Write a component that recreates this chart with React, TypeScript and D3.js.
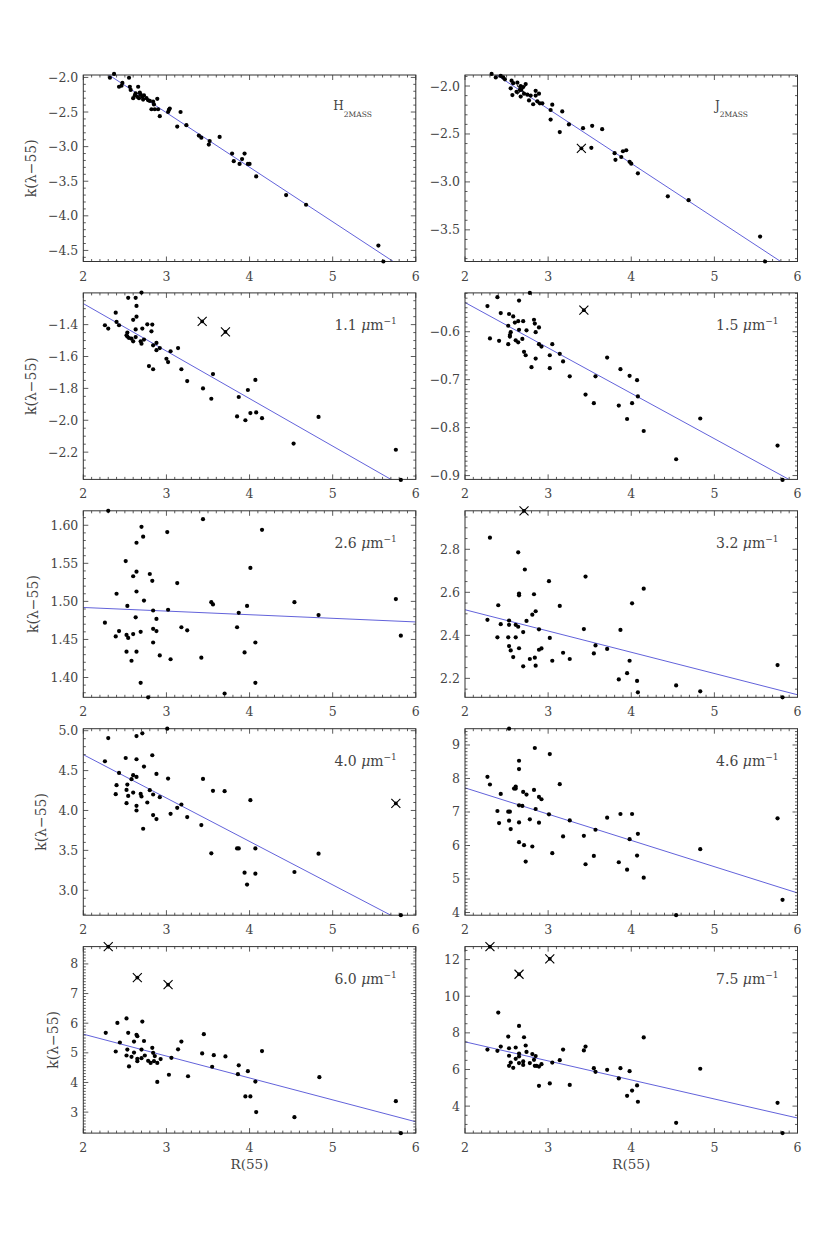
import React, { useEffect, useRef } from 'react';
import * as d3 from 'd3';

type Pt = [number, number];

// R(55), k(lambda-55) pairs
const hPts: Pt[] = [
  [2.32, -2.005], [2.37, -1.95], [2.43, -2.135], [2.46, -2.12], [2.47, -2.08], [2.55, -2.005],
  [2.56, -2.135], [2.57, -2.18], [2.60, -2.30], [2.66, -2.135], [2.63, -2.23], [2.65, -2.28],
  [2.68, -2.22], [2.71, -2.28], [2.73, -2.26], [2.72, -2.32], [2.76, -2.30], [2.78, -2.33],
  [2.62, -2.26], [2.69, -2.25], [2.67, -2.30], [2.80, -2.34],
  [2.82, -2.46], [2.84, -2.35], [2.85, -2.39], [2.86, -2.46], [2.89, -2.31], [2.90, -2.46],
  [2.92, -2.56], [3.02, -2.50], [3.03, -2.47], [3.04, -2.45], [3.13, -2.71], [3.17, -2.50],
  [3.24, -2.69], [3.39, -2.84], [3.42, -2.87], [3.51, -2.97], [3.52, -2.92], [3.64, -2.86],
  [3.79, -3.10], [3.81, -3.21], [3.88, -3.25], [3.91, -3.18], [3.94, -3.10], [3.98, -3.25],
  [4.00, -3.25], [4.08, -3.43], [4.44, -3.70], [4.68, -3.84], [5.55, -4.43], [5.61, -4.66],
];
const jPts: Pt[] = [
  [2.32, -1.874], [2.37, -1.91], [2.43, -1.895], [2.46, -1.91], [2.48, -1.93], [2.56, -1.944],
  [2.55, -2.024], [2.57, -2.094], [2.58, -1.97], [2.62, -2.06], [2.63, -1.965], [2.66, -2.04],
  [2.67, -2.0], [2.67, -2.11], [2.70, -2.01], [2.71, -2.08], [2.73, -1.98], [2.75, -2.09],
  [2.77, -2.15], [2.79, -2.10], [2.82, -2.19], [2.85, -2.05], [2.85, -2.10], [2.87, -2.16],
  [2.89, -2.08], [2.90, -2.18], [2.93, -2.18], [3.03, -2.25], [3.03, -2.35], [3.05, -2.195],
  [3.14, -2.48], [3.17, -2.265], [3.25, -2.40], [3.42, -2.44], [3.52, -2.645], [3.53, -2.415],
  [3.65, -2.45], [3.80, -2.70], [3.81, -2.77], [3.88, -2.74], [3.90, -2.68], [3.94, -2.67],
  [3.98, -2.79], [4.00, -2.81], [4.08, -2.91], [4.44, -3.15], [4.69, -3.19], [5.55, -3.57],
  [5.61, -3.83],
];
const k11Pts: Pt[] = [
  [2.26, -1.404], [2.30, -1.425], [2.39, -1.325], [2.40, -1.383], [2.43, -1.404], [2.54, -1.232],
  [2.60, -1.37], [2.63, -1.232], [2.64, -1.283], [2.64, -1.35], [2.63, -1.43], [2.63, -1.478],
  [2.53, -1.45], [2.52, -1.467], [2.53, -1.475], [2.55, -1.484], [2.58, -1.488], [2.60, -1.505],
  [2.70, -1.199], [2.71, -1.425], [2.69, -1.505], [2.70, -1.52], [2.73, -1.494], [2.77, -1.398],
  [2.79, -1.66], [2.82, -1.442], [2.83, -1.40], [2.84, -1.53], [2.84, -1.68], [2.88, -1.515],
  [2.88, -1.56], [2.92, -1.547], [3.00, -1.614], [3.02, -1.635], [3.05, -1.567], [3.14, -1.547],
  [3.18, -1.68], [3.25, -1.754], [3.44, -1.80], [3.54, -1.865], [3.56, -1.71], [3.85, -1.976],
  [3.87, -1.854], [3.95, -2.00], [3.98, -1.81], [4.01, -1.955], [4.07, -1.747], [4.08, -1.951],
  [4.15, -1.987], [4.53, -2.146], [4.83, -1.979], [5.76, -2.185], [5.82, -2.374],
];
const k15Pts: Pt[] = [
  [2.27, -0.5465], [2.30, -0.614], [2.39, -0.528], [2.41, -0.619], [2.43, -0.561], [2.53, -0.563],
  [2.52, -0.5875], [2.52, -0.626], [2.54, -0.607], [2.55, -0.601], [2.54, -0.61], [2.58, -0.568],
  [2.60, -0.581], [2.61, -0.618], [2.64, -0.578], [2.65, -0.596], [2.65, -0.535], [2.64, -0.622],
  [2.70, -0.578], [2.69, -0.615], [2.71, -0.642], [2.73, -0.649], [2.74, -0.597], [2.78, -0.519],
  [2.80, -0.674], [2.83, -0.575], [2.84, -0.583], [2.85, -0.601], [2.85, -0.656], [2.89, -0.591],
  [2.89, -0.626], [2.92, -0.631], [3.02, -0.649], [3.02, -0.676], [3.05, -0.626], [3.14, -0.646],
  [3.18, -0.662], [3.26, -0.693], [3.45, -0.731], [3.55, -0.749], [3.57, -0.693], [3.71, -0.654],
  [3.85, -0.754], [3.87, -0.678], [3.95, -0.782], [3.98, -0.692], [4.01, -0.749], [4.07, -0.701],
  [4.08, -0.735], [4.15, -0.807], [4.54, -0.866], [4.83, -0.781], [5.76, -0.8375], [5.82, -0.909],
];
const k26Pts: Pt[] = [
  [2.30, 1.619], [2.26, 1.472], [2.39, 1.454], [2.40, 1.510], [2.43, 1.461], [2.51, 1.553],
  [2.52, 1.456], [2.52, 1.434], [2.53, 1.494], [2.54, 1.452], [2.58, 1.422], [2.60, 1.533],
  [2.60, 1.457], [2.64, 1.577], [2.64, 1.539], [2.64, 1.513], [2.63, 1.479], [2.64, 1.434],
  [2.69, 1.393], [2.70, 1.598], [2.69, 1.460], [2.72, 1.585], [2.73, 1.501], [2.78, 1.374],
  [2.80, 1.536], [2.83, 1.527], [2.84, 1.464], [2.84, 1.488], [2.84, 1.446], [2.88, 1.477],
  [2.88, 1.461], [2.92, 1.429], [3.01, 1.591], [3.02, 1.489], [3.05, 1.424], [3.13, 1.524],
  [3.18, 1.466], [3.25, 1.462], [3.44, 1.608], [3.42, 1.426], [3.54, 1.499], [3.56, 1.496],
  [3.70, 1.379], [3.85, 1.466], [3.87, 1.485], [3.94, 1.433], [3.97, 1.494], [4.01, 1.544],
  [4.07, 1.446], [4.07, 1.393], [4.15, 1.594], [4.54, 1.499], [4.83, 1.482], [5.76, 1.503],
  [5.82, 1.455],
];
const k32Pts: Pt[] = [
  [2.30, 2.854], [2.27, 2.472], [2.39, 2.391], [2.40, 2.540], [2.43, 2.452], [2.53, 2.469],
  [2.52, 2.391], [2.53, 2.449], [2.53, 2.35], [2.55, 2.330], [2.58, 2.299], [2.61, 2.449],
  [2.61, 2.391], [2.64, 2.440], [2.65, 2.340], [2.64, 2.786], [2.65, 2.594], [2.65, 2.586],
  [2.70, 2.256], [2.70, 2.415], [2.72, 2.706], [2.74, 2.467], [2.78, 2.290], [2.81, 2.496],
  [2.83, 2.591], [2.84, 2.296], [2.85, 2.259], [2.85, 2.512], [2.89, 2.428], [2.89, 2.333],
  [2.92, 2.339], [3.01, 2.652], [3.02, 2.388], [3.05, 2.282], [3.14, 2.537], [3.18, 2.319],
  [3.26, 2.290], [3.43, 2.429], [3.45, 2.673], [3.55, 2.316], [3.57, 2.353], [3.71, 2.337],
  [3.85, 2.195], [3.87, 2.425], [3.95, 2.224], [3.98, 2.282], [4.01, 2.549], [4.07, 2.188],
  [4.08, 2.135], [4.15, 2.617], [4.54, 2.167], [4.83, 2.140], [5.76, 2.262], [5.82, 2.112],
];
const k40Pts: Pt[] = [
  [2.30, 4.908], [2.64, 4.933], [2.71, 4.967], [3.01, 5.025], [2.26, 4.617], [2.51, 4.658],
  [2.64, 4.642], [2.83, 4.692], [2.73, 4.55], [2.43, 4.471], [2.60, 4.442], [2.64, 4.421],
  [2.58, 4.392], [2.88, 4.458], [3.02, 4.40], [3.44, 4.396], [2.40, 4.317], [2.53, 4.325],
  [2.52, 4.258], [2.39, 4.204], [2.54, 4.183], [2.60, 4.225], [2.69, 4.208], [2.70, 4.175],
  [2.80, 4.254], [2.84, 4.20], [2.92, 4.167], [2.77, 4.10], [2.52, 4.092], [2.64, 4.058],
  [2.64, 4.00], [2.84, 3.942], [2.88, 3.892], [2.72, 3.771], [3.05, 3.958], [3.13, 4.033],
  [3.18, 4.075], [3.25, 3.917], [3.56, 4.246], [3.70, 4.242], [3.42, 3.817], [3.54, 3.463],
  [3.85, 3.525], [3.87, 3.525], [4.01, 4.129], [4.07, 3.525], [3.94, 3.221], [4.07, 3.208],
  [3.97, 3.071], [4.54, 3.229], [4.83, 3.458], [5.82, 2.6875],
];
const k46Pts: Pt[] = [
  [2.53, 9.486], [2.84, 8.91], [3.02, 8.73], [2.65, 8.53], [2.65, 8.28], [2.27, 8.05],
  [2.30, 7.82], [2.43, 7.54], [2.61, 7.76], [2.59, 7.70], [2.61, 7.70], [2.83, 7.66],
  [3.14, 7.83], [2.70, 7.60], [2.74, 7.52], [2.89, 7.45], [2.92, 7.38], [2.65, 7.20],
  [2.69, 7.18], [2.85, 7.09], [2.39, 7.03], [2.52, 7.01], [2.54, 7.01], [3.01, 6.93],
  [2.41, 6.67], [2.53, 6.74], [2.55, 6.49], [2.65, 6.69], [2.78, 6.78], [2.89, 6.68],
  [3.26, 6.75], [3.71, 6.83], [3.87, 6.94], [4.01, 6.94], [3.57, 6.47], [3.18, 6.27],
  [3.43, 6.29], [3.98, 6.19], [4.08, 6.35], [2.65, 6.10], [2.71, 6.01], [2.81, 5.97],
  [3.05, 5.77], [2.73, 5.52], [3.45, 5.44], [3.55, 5.69], [3.85, 5.50], [3.95, 5.28],
  [4.07, 5.70], [4.15, 5.04], [4.54, 3.92], [4.83, 5.89], [5.76, 6.81], [5.82, 4.38],
];
const k60Pts: Pt[] = [
  [2.27, 5.674], [2.41, 6.01], [2.52, 6.16], [2.54, 5.674], [2.44, 5.348], [2.39, 5.045],
  [2.53, 5.11], [2.52, 4.91], [2.55, 4.54], [2.58, 4.865], [2.61, 5.01], [2.61, 5.38],
  [2.65, 5.56], [2.64, 5.61], [2.65, 4.80], [2.65, 4.72], [2.70, 4.82], [2.70, 5.11],
  [2.71, 6.055], [2.73, 5.40], [2.74, 4.91], [2.78, 4.73], [2.81, 4.66], [2.83, 5.17],
  [2.84, 5.00], [2.85, 4.72], [2.86, 4.89], [2.89, 4.66], [2.89, 4.02], [2.93, 4.79],
  [3.03, 4.26], [3.06, 4.83], [3.14, 5.12], [3.18, 5.38], [3.26, 4.21], [3.43, 4.98],
  [3.45, 5.63], [3.55, 4.53], [3.57, 4.92], [3.71, 4.88], [3.86, 4.28], [3.87, 4.58],
  [3.98, 4.38], [4.01, 3.53], [3.95, 3.53], [4.07, 4.03], [4.08, 3.0], [4.15, 5.06],
  [4.54, 2.83], [4.84, 4.18], [5.76, 3.37], [5.82, 2.29],
];
const k75Pts: Pt[] = [
  [2.40, 9.11], [2.27, 7.09], [2.39, 7.02], [2.43, 7.25], [2.52, 7.80], [2.53, 7.16],
  [2.53, 6.75], [2.53, 6.20], [2.55, 6.38], [2.58, 6.09], [2.61, 7.2], [2.61, 6.58],
  [2.65, 8.38], [2.65, 6.87], [2.65, 6.71], [2.65, 6.35], [2.70, 6.44], [2.70, 6.25],
  [2.71, 7.76], [2.73, 7.31], [2.74, 6.96], [2.78, 6.35], [2.81, 6.84], [2.83, 6.53],
  [2.85, 6.73], [2.84, 6.20], [2.86, 6.20], [2.89, 6.16], [2.89, 5.11], [2.92, 6.29],
  [3.02, 5.24], [3.05, 6.38], [3.14, 6.51], [3.18, 7.09], [3.26, 5.16], [3.43, 7.04],
  [3.45, 7.25], [3.55, 6.07], [3.57, 5.87], [3.71, 5.98], [3.85, 5.51], [3.87, 6.07],
  [3.95, 4.56], [3.98, 5.91], [4.01, 4.85], [4.07, 5.13], [4.08, 4.24], [4.15, 7.75],
  [4.54, 3.09], [4.83, 6.04], [5.76, 4.18], [5.82, 2.53],
];

// rejected stars, drawn as crosses
const hCross: Pt[] = [];
const jCross: Pt[] = [[3.40, -2.65], [2.68, -2.04]];
const k11Cross: Pt[] = [[3.43, -1.38], [3.71, -1.446]];
const k15Cross: Pt[] = [[3.43, -0.555]];
const k26Cross: Pt[] = [];
const k32Cross: Pt[] = [[2.71, 2.979]];
const k40Cross: Pt[] = [[5.76, 4.088]];
const k46Cross: Pt[] = [];
const k60Cross: Pt[] = [[2.30, 8.584], [2.65, 7.54], [3.02, 7.30]];
const k75Cross: Pt[] = [[2.30, 12.71], [2.65, 11.2], [3.02, 12.04]];

const panelPoints = [hPts, jPts, k11Pts, k15Pts, k26Pts, k32Pts, k40Pts, k46Pts, k60Pts, k75Pts];
const panelCrosses = [hCross, jCross, k11Cross, k15Cross, k26Cross, k32Cross, k40Cross, k46Cross, k60Cross, k75Cross];
const panelLabels = ['H', 'J', '1.1', '1.5', '2.6', '3.2', '4.0', '4.6', '6.0', '7.5'];

// linear fits k = a + b * R(55)
const fitIntercept = [-0.1455, -0.531, -0.672, -0.3496, 1.5015, 2.7166, 5.788, 9.288, 7.108, 9.59];
const fitSlope = [-0.788, -0.569, -0.298, -0.0947, -0.00475, -0.0988, -0.544, -0.784, -0.739, -1.04];

const xDomain: [number, number] = [2, 6];
const xTicks = [2, 3, 4, 5, 6];
const yDomains: [number, number][] = [
  [-4.66, -1.965], [-3.83, -1.885], [-2.371, -1.201], [-0.908, -0.519], [1.374, 1.619],
  [2.112, 2.979], [2.6875, 5.025], [3.92, 9.486], [2.292, 8.584], [2.527, 12.71],
];
const yMajor = [0.5, 0.5, 0.2, 0.1, 0.05, 0.2, 0.5, 1, 1, 2];
const yMinor = [0.1, 0.1, 0.05, 0.01, 0.01, 0.05, 0.1, 0.1, 0.1, 0.5];
const yDecimals = [1, 1, 1, 1, 2, 1, 1, 0, 0, 0];

const FONT = '"DejaVu Serif", "Liberation Serif", serif';
const AXIS = '#333';
const TEXT = '#444';
const FIT = '#3a3ad0';

const stepTicks = (domain: [number, number], step: number) => {
  const lo = Math.ceil(domain[0] / step - 1e-6);
  const hi = Math.floor(domain[1] / step + 1e-6);
  return d3.range(lo, hi + 1).map(v => +(v * step).toFixed(6));
};

const App = () => {
  const svgRef = useRef<SVGSVGElement | null>(null);

  useEffect(() => {
    const svg = d3.select(svgRef.current);
    svg.selectAll('*').remove();

    const colX = [83.3, 465];
    const pw = 332.5;
    const ph = 186.5;
    const rowTop = (r: number) => 75 + r * 217.9;

    panelPoints.forEach((pts, i) => {
      const col = i % 2;
      const row = Math.floor(i / 2);
      const g = svg.append('g').attr('transform', `translate(${colX[col]},${rowTop(row)})`);

      const x = d3.scaleLinear().domain(xDomain).range([0, pw]);
      const y = d3.scaleLinear().domain(yDomains[i]).range([ph, 0]);

      const clipId = `clip-${i}`;
      g.append('clipPath').attr('id', clipId)
        .append('rect').attr('width', pw).attr('height', ph);

      // fit line
      const fitLine = d3.line<number>()
        .x(r => x(r))
        .y(r => y(fitIntercept[i] + fitSlope[i] * r));
      g.append('path')
        .attr('clip-path', `url(#${clipId})`)
        .attr('d', fitLine(xDomain))
        .attr('fill', 'none')
        .attr('stroke', FIT)
        .attr('stroke-width', 0.8);

      // frame
      g.append('rect')
        .attr('width', pw).attr('height', ph)
        .attr('fill', 'none').attr('stroke', AXIS).attr('stroke-width', 1);

      // ticks on all four sides, pointing inward
      const ticks = g.append('g').attr('stroke', AXIS).attr('stroke-width', 0.8);
      const xMinorTicks = d3.range(20, 61).map(v => v / 10);
      xMinorTicks.forEach(v => {
        const len = xTicks.includes(v) ? 5 : 2.5;
        ticks.append('line').attr('x1', x(v)).attr('x2', x(v)).attr('y1', ph).attr('y2', ph - len);
        ticks.append('line').attr('x1', x(v)).attr('x2', x(v)).attr('y1', 0).attr('y2', len);
      });
      const majors = stepTicks(yDomains[i], yMajor[i]);
      const minors = stepTicks(yDomains[i], yMinor[i]);
      minors.forEach(v => {
        const isMajor = majors.some(m => Math.abs(m - v) < 1e-6);
        const len = isMajor ? 5 : 2.5;
        ticks.append('line').attr('y1', y(v)).attr('y2', y(v)).attr('x1', 0).attr('x2', len);
        ticks.append('line').attr('y1', y(v)).attr('y2', y(v)).attr('x1', pw).attr('x2', pw - len);
      });

      // tick labels
      g.selectAll('.xl').data(xTicks).enter().append('text')
        .attr('x', d => x(d)).attr('y', ph + 19)
        .attr('text-anchor', 'middle')
        .attr('font-family', FONT).attr('font-size', 12.5).attr('fill', TEXT)
        .text(d => String(d));

      const fmt = d3.format(`.${yDecimals[i]}f`);
      const yl = g.selectAll('.yl').data(majors).enter().append('text')
        .attr('x', -5).attr('y', d => y(d))
        .attr('text-anchor', 'end').attr('dominant-baseline', 'central')
        .attr('font-family', FONT).attr('font-size', 12.5).attr('fill', TEXT)
        .text(d => fmt(d));

      // y title on the left column, placed outside the widest tick label
      if (col === 0) {
        let maxW = 0;
        yl.each(function () {
          maxW = Math.max(maxW, (this as SVGTextElement).getComputedTextLength());
        });
        const bx = -5 - maxW - 12;
        g.append('text')
          .attr('transform', `translate(${bx},${ph / 2}) rotate(-90)`)
          .attr('text-anchor', 'middle')
          .attr('font-family', FONT).attr('font-size', 14).attr('fill', TEXT)
          .text('k(λ−55)');
      }

      if (row === 4) {
        g.append('text')
          .attr('x', pw / 2).attr('y', ph + 35.5)
          .attr('text-anchor', 'middle')
          .attr('font-family', FONT).attr('font-size', 13.5).attr('fill', TEXT)
          .text('R(55)');
      }

      // panel label
      const label = panelLabels[i];
      if (i < 2) {
        const t = g.append('text')
          .attr('x', 250).attr('y', 35)
          .attr('font-family', FONT).attr('fill', TEXT);
        t.append('tspan').attr('font-size', 12).text(label);
        t.append('tspan').attr('font-size', 7.5).attr('dy', 7).text('2MASS');
      } else {
        const t = g.append('text')
          .attr('x', pw - 19).attr('y', 37.5)
          .attr('text-anchor', 'end')
          .attr('font-family', FONT).attr('fill', TEXT).attr('font-size', 14);
        t.append('tspan').text(`${label} `);
        t.append('tspan').attr('font-style', 'italic').text('μ');
        t.append('tspan').text('m');
        t.append('tspan').attr('font-size', 9).attr('dy', -6).text('−1');
      }

      // data points
      g.selectAll('.pt').data(pts).enter().append('circle')
        .attr('cx', d => x(d[0])).attr('cy', d => y(d[1]))
        .attr('r', 2.1).attr('fill', '#000');

      const cr = g.selectAll('.cr').data(panelCrosses[i]).enter().append('g')
        .attr('transform', d => `translate(${x(d[0])},${y(d[1])})`);
      cr.append('path').attr('d', 'M-4.5,-4.5L4.5,4.5M-4.5,4.5L4.5,-4.5')
        .attr('stroke', '#000').attr('stroke-width', 1.1);
      cr.append('circle').attr('r', 1.9).attr('fill', '#000');
    });
  }, []);

  return (
    <svg
      ref={svgRef}
      width={830}
      height={1246}
      style={{ position: 'absolute', left: 0, top: 0, background: '#fff' }}
    />
  );
};

export default App;
